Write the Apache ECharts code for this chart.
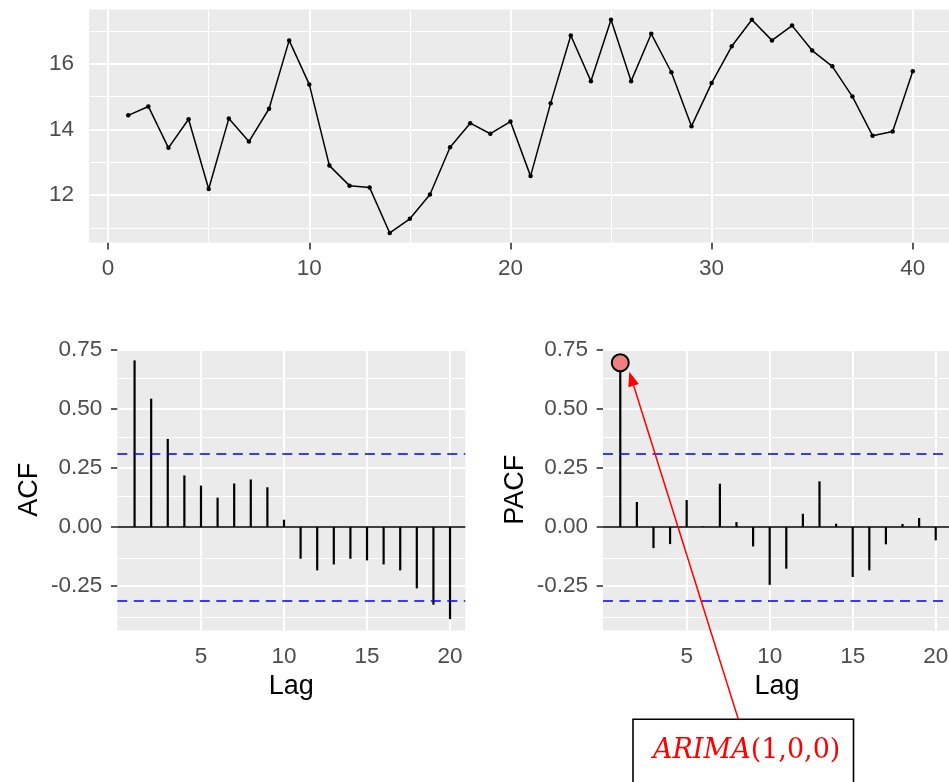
<!DOCTYPE html>
<html><head><meta charset="utf-8">
<script src="https://cdn.jsdelivr.net/npm/echarts@6/dist/echarts.min.js"></script>
<style>html,body{margin:0;padding:0;background:#fff}#c{width:949px;height:782px}</style>
</head><body><div id="c"></div>
<script>
// ---- data ----
const seriesValues = [14.43,14.70,13.44,14.31,12.19,14.33,13.63,14.63,16.71,15.37,
  12.90,12.29,12.23,10.85,11.28,12.02,13.46,14.19,13.87,14.24,
  12.58,14.80,16.86,15.47,17.34,15.47,16.91,15.74,14.10,15.41,
  16.53,17.34,16.71,17.16,16.40,15.92,15.00,13.81,13.94,15.77];
const lags = [1,2,3,4,5,6,7,8,9,10,11,12,13,14,15,16,17,18,19,20];
const acfValues = [0.704,0.542,0.372,0.218,0.175,0.124,0.184,0.201,0.168,0.031,
  -0.134,-0.183,-0.158,-0.134,-0.141,-0.158,-0.183,-0.259,-0.328,-0.389];
const pacfValues = [0.704,0.106,-0.089,-0.072,0.114,0.003,0.183,0.021,-0.082,-0.244,
  -0.176,0.056,0.193,0.014,-0.211,-0.183,-0.073,0.013,0.038,-0.056];
const ciBound = 0.3099;
const topXTicks = [0,10,20,30,40];
const topXMinor = [5,15,25,35];
const topYTicks = [12,14,16];
const topYMinor = [11,13,15,17];
const lagTicks = [5,10,15,20];
const corrTicks = [-0.25,0,0.25,0.5,0.75];
const corrMinor = [-0.375,-0.125,0.125,0.375,0.625];
const annotationText = ['ARIMA','(1,0,0)'];

// ---- styles ----
const BG = '#EBEBEB', LABEL = '#4D4D4D', TICK = '#333333';
const FONT = 'Liberation Sans, Arial, sans-serif';
const tickFont = 22.5, titleFont = 27;

function xAxisDef(grid, min, max, ticks, name) {
  return {
    gridIndex: grid, type: 'value', min: min, max: max,
    axisLine: {show: false},
    axisTick: {show: true, length: 7, customValues: ticks, lineStyle: {color: TICK, width: 1.6}},
    axisLabel: {customValues: ticks, margin: 15, color: LABEL, fontSize: tickFont, fontFamily: FONT},
    splitLine: {show: false},
    name: name || '', nameLocation: 'middle', nameGap: 43,
    nameTextStyle: {fontSize: titleFont, color: '#000', fontFamily: FONT}
  };
}
function yAxisDef(grid, min, max, ticks, name, fmt) {
  return {
    gridIndex: grid, type: 'value', min: min, max: max,
    axisLine: {show: false},
    axisTick: {show: true, length: 7, customValues: ticks, lineStyle: {color: TICK, width: 1.6}},
    axisLabel: {customValues: ticks, margin: 15, color: LABEL, fontSize: tickFont, fontFamily: FONT,
      formatter: fmt || (v => String(v))},
    splitLine: {show: false},
    name: name || '', nameLocation: 'middle', nameGap: 74, nameRotate: 90,
    nameTextStyle: {fontSize: titleFont, color: '#000', fontFamily: FONT}
  };
}
function gridSeries(idx, xMajor, xMinor, yMajor, yMinor) {
  const d = [];
  xMinor.forEach(v => d.push({xAxis: v, lineStyle: {color: '#fff', width: 1.1, type: 'solid'}}));
  yMinor.forEach(v => d.push({yAxis: v, lineStyle: {color: '#fff', width: 1.1, type: 'solid'}}));
  xMajor.forEach(v => d.push({xAxis: v, lineStyle: {color: '#fff', width: 2.1, type: 'solid'}}));
  yMajor.forEach(v => d.push({yAxis: v, lineStyle: {color: '#fff', width: 2.1, type: 'solid'}}));
  return {type: 'line', xAxisIndex: idx, yAxisIndex: idx, data: [], z: 1, silent: true,
    markLine: {z: 1, silent: true, symbol: 'none', label: {show: false}, animation: false, data: d}};
}
function refSeries(idx) {
  return {type: 'line', xAxisIndex: idx, yAxisIndex: idx, data: [], z: 4, silent: true,
    markLine: {z: 4, silent: true, symbol: 'none', label: {show: false}, animation: false, data: [
      {yAxis: 0, lineStyle: {color: '#000', width: 1.6, type: 'solid'}},
      {yAxis: ciBound, lineStyle: {color: '#0000FF', width: 1.6, type: [10, 6.5]}},
      {yAxis: -ciBound, lineStyle: {color: '#0000FF', width: 1.6, type: [10, 6.5]}}
    ]}};
}
const fmt2 = v => v.toFixed(2);
const corrMin = -0.437, corrMax = 0.752;

const chart = echarts.init(document.getElementById('c'), null, {renderer: 'canvas'});
chart.setOption({
  animation: false,
  backgroundColor: '#fff',
  grid: [
    {left: 89, top: 9.5, width: 863, height: 233, show: true, backgroundColor: BG, borderWidth: 0, outerBoundsMode: 'none'},
    {left: 117.3, top: 349, width: 348, height: 281.5, show: true, backgroundColor: BG, borderWidth: 0, outerBoundsMode: 'none'},
    {left: 603, top: 349, width: 348, height: 281.5, show: true, backgroundColor: BG, borderWidth: 0, outerBoundsMode: 'none'}
  ],
  xAxis: [
    xAxisDef(0, -0.95, 41.95, topXTicks),
    xAxisDef(1, -0.04, 20.92, lagTicks, 'Lag'),
    xAxisDef(2, -0.04, 20.92, lagTicks, 'Lag')
  ],
  yAxis: [
    yAxisDef(0, 10.56, 17.65, topYTicks),
    yAxisDef(1, corrMin, corrMax, corrTicks, 'ACF', fmt2),
    yAxisDef(2, corrMin, corrMax, corrTicks, 'PACF', fmt2)
  ],
  series: [
    gridSeries(0, topXTicks, topXMinor, topYTicks, topYMinor),
    gridSeries(1, lagTicks, [], corrTicks, corrMinor),
    gridSeries(2, lagTicks, [], corrTicks, corrMinor),
    {type: 'line', xAxisIndex: 0, yAxisIndex: 0, z: 3,
      data: seriesValues.map((v, i) => [i + 1, v]),
      symbol: 'circle', symbolSize: 4.5, showSymbol: true,
      lineStyle: {color: '#000', width: 1.5}, itemStyle: {color: '#000'}},
    {type: 'bar', xAxisIndex: 1, yAxisIndex: 1, z: 3, barWidth: 2.2,
      data: lags.map((l, i) => [l, acfValues[i]]), itemStyle: {color: '#000'}},
    {type: 'bar', xAxisIndex: 2, yAxisIndex: 2, z: 3, barWidth: 2.2,
      data: lags.map((l, i) => [l, pacfValues[i]]), itemStyle: {color: '#000'}},
    refSeries(1), refSeries(2),
    {type: 'scatter', xAxisIndex: 2, yAxisIndex: 2, z: 6,
      data: [[lags[0], pacfValues[0] - 0.01]], symbol: 'circle', symbolSize: 17,
      itemStyle: {color: '#F08080', borderColor: '#000', borderWidth: 2, opacity: 1}}
  ]
});

// ---- annotation (arrow + box) ----
const c = chart.convertToPixel({gridIndex: 2}, [lags[0], pacfValues[0] - 0.01]);
const tip = [c[0] + 9, c[1] + 9];
const start = [738.3, 719.3];
const dx = tip[0] - start[0], dy = tip[1] - start[1];
const len = Math.sqrt(dx * dx + dy * dy);
const ux = dx / len, uy = dy / len;
const headL = 14.5, headW = 5.5;
const base = [tip[0] - ux * headL, tip[1] - uy * headL];
const nx = -uy, ny = ux;
chart.setOption({
  graphic: [
    {type: 'rect', z: 100, shape: {x: 633, y: 719.3, width: 220.5, height: 90},
      style: {fill: '#fff', stroke: '#000', lineWidth: 1.6}},
    {type: 'text', z: 101, style: {
      x: 653, y: 751, verticalAlign: 'middle', align: 'left',
      text: '{a|' + annotationText[0] + '}{b|' + annotationText[1] + '}',
      rich: {
        a: {fontFamily: 'DejaVu Serif', fontStyle: 'italic', fontSize: 27, fill: '#FF0000', color: '#FF0000'},
        b: {fontFamily: 'DejaVu Serif', fontSize: 27, fill: '#FF0000', color: '#FF0000'}
      }}},
    {type: 'line', z: 100, shape: {x1: start[0], y1: start[1], x2: base[0], y2: base[1]},
      style: {stroke: '#FF0000', lineWidth: 1.5}},
    {type: 'polygon', z: 100, shape: {points: [tip,
      [base[0] + nx * headW, base[1] + ny * headW],
      [base[0] - nx * headW, base[1] - ny * headW]]},
      style: {fill: '#FF0000'}}
  ]
});
</script>
</body></html>
